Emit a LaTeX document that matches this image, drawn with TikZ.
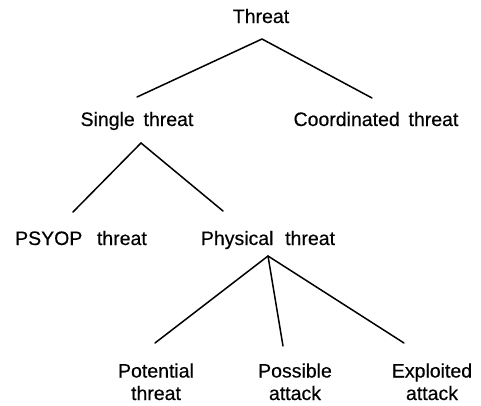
\documentclass[tikz,border=0pt]{standalone}
\usepackage{fontspec}
\setmainfont{Liberation Sans}
\newfontfamily\treefont[FakeBold=0.4]{Liberation Sans}
\newcommand\treelabelfont{\treefont\fontsize{19.5}{22.5}\selectfont\spaceskip 0.45em\relax}
\begin{document}
\begin{tikzpicture}[x=1pt,y=-1pt,
  lbl/.style={anchor=base,inner sep=0pt,align=center,font=\treelabelfont},
  branch/.style={line width=1.5pt,line cap=round}]
\useasboundingbox (0,0) rectangle (481,405);

% labels (two-line labels sit on the baseline of their last line)
\node[lbl] (threat) at (261,23) {Threat};
\node[lbl] (single) at (137,126) {Single threat};
\node[lbl] (coord) at (376,126) {Coordinated threat};
\node[lbl] (psyop) at (81,245) {PSYOP\hspace{0.3em} threat};
\node[lbl] (phys) at (268,245) {Physical\hspace{0.15em} threat};
\node[lbl] (potential) at (156,400) {Potential\\threat};
\node[lbl] (possible) at (295,400) {Possible\\attack};
\node[lbl] (exploited) at (432,400) {Exploited\\attack};

% branch points and line ends
\coordinate (threat-j) at (262,39);
\coordinate (single-in) at (137,97);
\coordinate (coord-in) at (372,98);
\coordinate (single-j) at (141,143);
\coordinate (psyop-in) at (73,212);
\coordinate (phys-in) at (223,211);
\coordinate (phys-j) at (268,256);
\coordinate (potential-in) at (155,343);
\coordinate (possible-in) at (283,346);
\coordinate (exploited-in) at (404,343);

% tree branches
\draw[branch] (single-in) -- (threat-j) -- (coord-in);
\draw[branch] (psyop-in) -- (single-j) -- (phys-in);
\draw[branch] (potential-in) -- (phys-j) -- (exploited-in);
\draw[branch] (phys-j) -- (possible-in);
\end{tikzpicture}
\end{document}
